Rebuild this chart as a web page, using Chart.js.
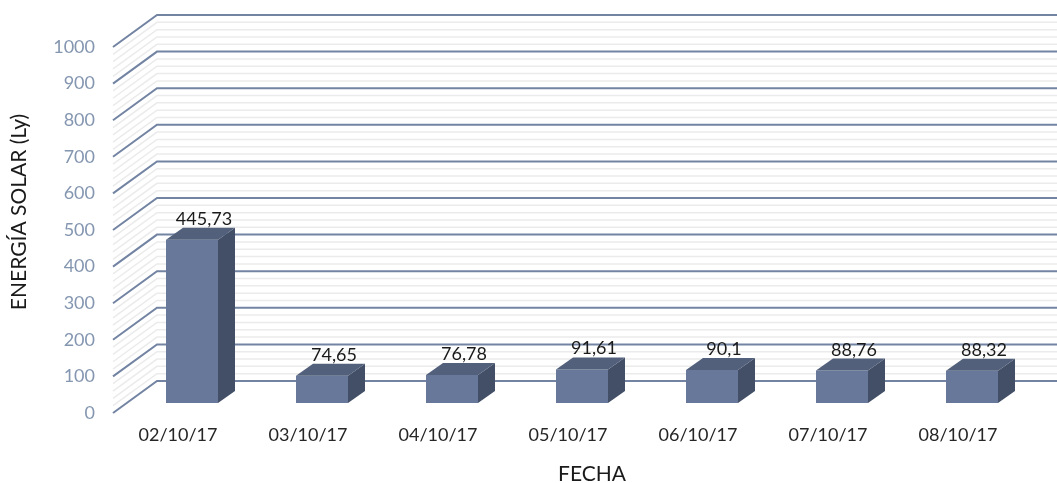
<!DOCTYPE html>
<html>
<head>
<meta charset="utf-8">
<script src="https://cdn.jsdelivr.net/npm/chart.js@4.4.1/dist/chart.umd.min.js"></script>
<style>
  html, body { margin: 0; padding: 0; background: #fff; }
  #wrap { width: 1057px; height: 483px; }
</style>
</head>
<body>
<div id="wrap"><canvas id="chart"></canvas></div>
<script>
// Data
const fechas = ['02/10/17', '03/10/17', '04/10/17', '05/10/17', '06/10/17', '07/10/17', '08/10/17'];
const energia = [445.73, 74.65, 76.78, 91.61, 90.1, 88.76, 88.32];
const yMin = 0, yMax = 1000, yStep = 100, yMinorStep = 20;

// 3D look
const WALL_DX = 44, WALL_DY = -32;   // depth of the back wall
const BAR_SX = 14, BAR_SY = -10;     // where bar front faces sit in the depth
const BAR_DX = 17, BAR_DY = -12;     // depth of a bar
const FONT = 'Lato, Carlito, "Liberation Sans", sans-serif';

const wallPlugin = {
    id: 'walls',
    beforeDatasetsDraw(chart) {
        const { ctx, chartArea: a, scales: { y } } = chart;
        ctx.save();
        // minor lines (light grey)
        ctx.strokeStyle = '#ebebeb';
        ctx.lineWidth = 1.5;
        for (let v = yMin; v < yMax; v += yMinorStep) {
            if (v % yStep === 0) continue;
            const py = y.getPixelForValue(v);
            ctx.beginPath();
            ctx.moveTo(a.left, py);
            ctx.lineTo(a.left + WALL_DX, py + WALL_DY);
            ctx.lineTo(chart.width, py + WALL_DY);
            ctx.stroke();
        }
        // major lines
        ctx.strokeStyle = '#7384a3';
        ctx.lineWidth = 2;
        for (let v = yMin; v <= yMax; v += yStep) {
            const py = y.getPixelForValue(v);
            ctx.beginPath();
            ctx.moveTo(a.left, py);
            ctx.lineTo(a.left + WALL_DX, py + WALL_DY);
            ctx.lineTo(chart.width, py + WALL_DY);
            ctx.stroke();
        }
        ctx.restore();
        // push the bars back into the depth
        ctx.save();
        ctx.translate(BAR_SX, BAR_SY);
    },
    afterDatasetsDraw(chart) {
        const { ctx } = chart;
        ctx.restore();
        ctx.save();
        const meta = chart.getDatasetMeta(0);
        meta.data.forEach((bar, i) => {
            const p = bar.getProps(['x', 'y', 'base', 'width'], true);
            const l = p.x - p.width / 2 + BAR_SX, r = p.x + p.width / 2 + BAR_SX;
            const t = p.y + BAR_SY, b = p.base + BAR_SY;
            // side face
            ctx.fillStyle = '#434f66';
            ctx.beginPath();
            ctx.moveTo(r, t);
            ctx.lineTo(r + BAR_DX, t + BAR_DY);
            ctx.lineTo(r + BAR_DX, b + BAR_DY);
            ctx.lineTo(r, b);
            ctx.closePath();
            ctx.fill();
            // top face
            ctx.fillStyle = '#52607b';
            ctx.beginPath();
            ctx.moveTo(l, t);
            ctx.lineTo(l + BAR_DX, t + BAR_DY);
            ctx.lineTo(r + BAR_DX, t + BAR_DY);
            ctx.lineTo(r, t);
            ctx.closePath();
            ctx.fill();
            // value label
            ctx.fillStyle = '#1a1a1a';
            ctx.font = '18px ' + FONT;
            ctx.textAlign = 'center';
            ctx.textBaseline = 'alphabetic';
            ctx.fillText(String(energia[i]).replace('.', ','), p.x + BAR_SX + 12, t + BAR_DY - 3);
        });
        ctx.restore();
    },
    afterDraw(chart) {
        const { ctx } = chart;
        ctx.save();
        ctx.fillStyle = '#1a1a1a';
        ctx.font = '21px ' + FONT;
        ctx.textAlign = 'center';
        ctx.textBaseline = 'middle';
        ctx.fillText('FECHA', 592, 474);
        ctx.translate(19, 212);
        ctx.rotate(-Math.PI / 2);
        ctx.fillText('ENERGÍA SOLAR (Ly)', 0, 0);
        ctx.restore();
    }
};

new Chart(document.getElementById('chart'), {
    type: 'bar',
    data: {
        labels: fechas,
        datasets: [{
            data: energia,
            backgroundColor: '#67789a',
            borderWidth: 0,
            barPercentage: 0.4,
            categoryPercentage: 1.0
        }]
    },
    options: {
        responsive: true,
        maintainAspectRatio: false,
        animation: false,
        events: [],
        layout: { padding: { top: 47, right: 34, left: 0, bottom: 0 } },
        plugins: { legend: { display: false }, tooltip: { enabled: false } },
        scales: {
            x: {
                grid: { display: false, drawTicks: false },
                border: { display: false },
                ticks: { color: '#262626', font: { size: 18, family: FONT }, padding: 11, maxRotation: 0 },
                afterFit(scale) { scale.height = 70; }
            },
            y: {
                min: yMin,
                max: yMax,
                grid: { display: false, drawTicks: false },
                border: { display: false },
                ticks: {
                    stepSize: yStep,
                    color: '#8496b0',
                    font: { size: 18, family: FONT },
                    padding: 18,
                    callback: (v) => String(v)
                },
                afterFit(scale) { scale.width = 113; }
            }
        }
    },
    plugins: [wallPlugin]
});
</script>
</body>
</html>
